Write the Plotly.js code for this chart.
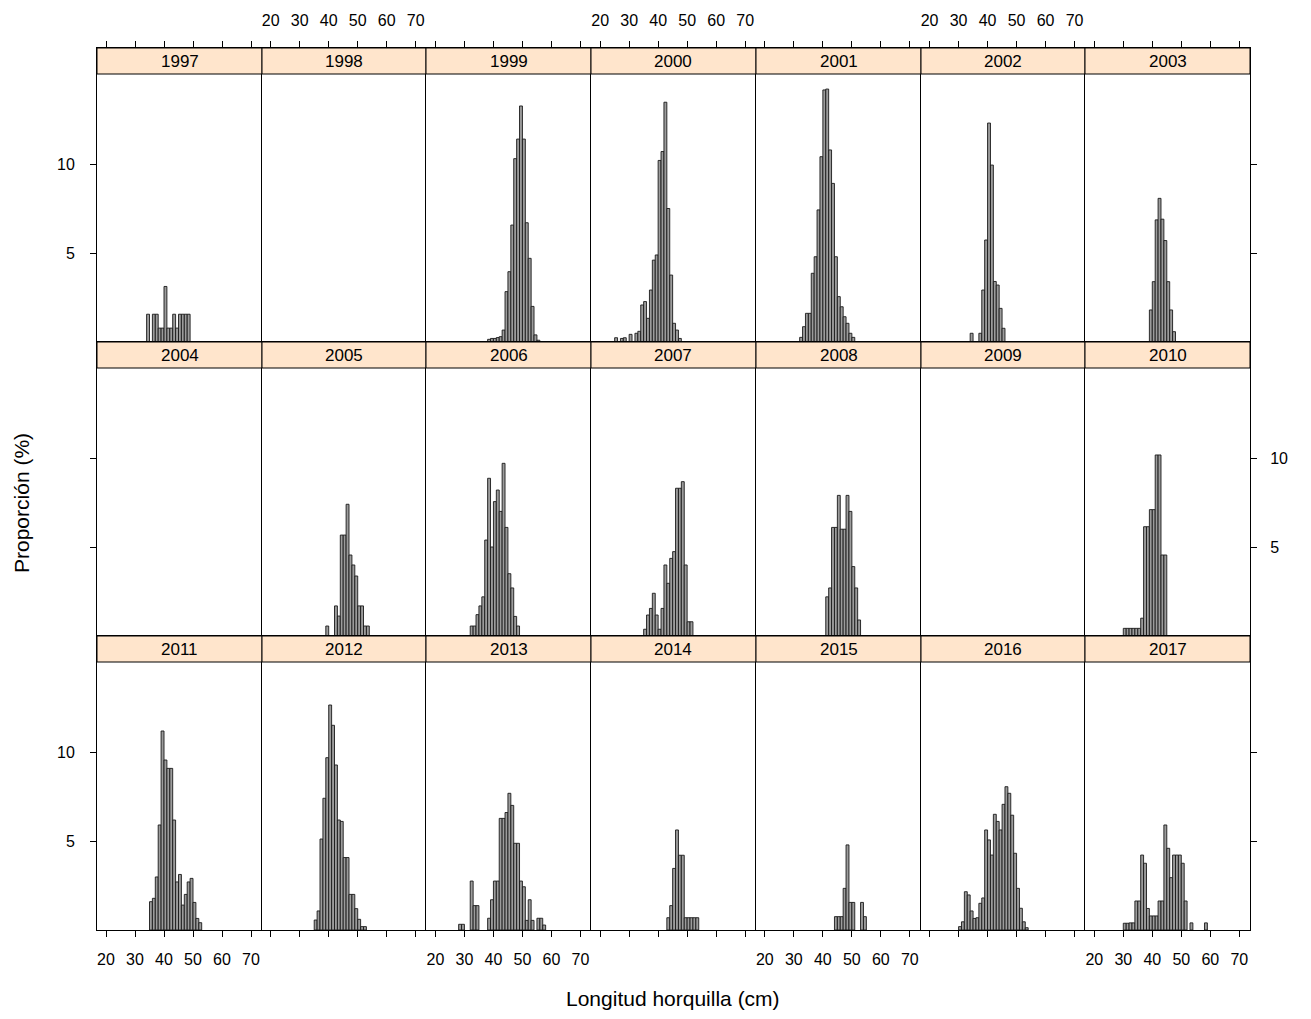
<!DOCTYPE html>
<html><head><meta charset="utf-8">
<script src="https://cdn.plot.ly/plotly-3.0.1.min.js"></script>
<style>html,body{margin:0;padding:0;background:#fff}#chart{width:1311px;height:1019px}</style>
</head><body><div id="chart"></div>
<script>
// ---- data: proportion (%) per 1-cm fork-length bin (bin lower edge, cm) ----
const years = [1997,1998,1999,2000,2001,2002,2003,2004,2005,2006,2007,2008,2009,2010,2011,2012,2013,2014,2015,2016,2017];
const xTicks = [20,30,40,50,60,70];
const yTicks = [5,10];

const len1997 = [34,36,37,38,39,40,41,42,43,44,45,46,47,48];
const pct1997 = [1.56,1.56,1.56,0.78,0.78,3.12,0.78,0.78,1.56,0.78,1.56,1.56,1.56,1.56];
const len1998 = [];
const pct1998 = [];
const len1999 = [38,39,40,41,42,43,44,45,46,47,48,49,50,51,52,53,54,55];
const pct1999 = [0.15,0.2,0.2,0.25,0.3,0.67,2.83,3.95,6.57,10.3,11.4,13.26,11.4,6.7,4.7,2.0,0.4,0.1];
const len2000 = [25,27,28,30,32,33,34,35,36,37,38,39,40,41,42,43,44,45,46,47];
const pct2000 = [0.24,0.2,0.24,0.43,0.49,0.6,2.08,2.27,1.33,2.92,4.6,4.89,10.2,10.7,13.47,7.5,3.76,1.05,0.67,0.2];
const len2001 = [32,33,34,35,36,37,38,39,40,41,42,43,44,45,46,47,48,49,50];
const pct2001 = [0.26,0.86,1.61,1.61,3.86,4.79,7.42,10.41,14.16,14.21,10.79,8.91,4.79,2.55,1.98,1.42,1.05,0.49,0.26];
const len2002 = [34,37,38,39,40,41,42,43,44,45];
const pct2002 = [0.49,0.49,2.92,5.73,12.3,9.94,3.4,3.2,1.89,0.77];
const len2003 = [39,40,41,42,43,44,45,46,47];
const pct2003 = [1.8,3.39,6.86,8.07,6.9,5.7,3.39,1.8,0.58];
const len2004 = [];
const pct2004 = [];
const len2005 = [39,42,43,44,45,46,47,48,49,50,51,52,53];
const pct2005 = [0.56,1.69,1.12,5.67,5.67,7.4,4.55,3.99,3.37,1.69,1.69,0.56,0.56];
const len2006 = [32,33,34,35,36,37,38,39,40,41,42,43,44,45,46,47,48];
const pct2006 = [0.56,0.56,1.2,1.69,2.2,5.39,8.86,5.0,7.55,8.2,7.0,9.7,6.1,3.5,2.7,1.1,0.56];
const len2007 = [35,36,37,38,39,40,41,42,43,44,45,46,47,48,49,50,51];
const pct2007 = [0.38,1.18,1.55,2.4,1.18,0.38,1.55,3.99,2.96,4.36,4.74,8.3,8.3,8.67,3.99,0.8,0.8];
const len2008 = [41,42,43,44,45,46,47,48,49,50,51,52];
const pct2008 = [2.2,2.7,6.1,6.1,7.9,6.0,6.0,7.9,7.0,3.9,2.7,0.9];
const len2009 = [];
const pct2009 = [];
const len2010 = [30,31,32,33,34,35,36,37,38,39,40,41,42,43,44];
const pct2010 = [0.43,0.43,0.43,0.43,0.43,0.43,1.0,6.14,6.14,7.1,7.1,10.17,10.17,4.55,4.55];
const len2011 = [35,36,37,38,39,40,41,42,43,44,45,46,47,48,49,50,51,52];
const pct2011 = [1.59,1.78,2.98,5.9,11.18,9.55,9.08,9.08,6.18,2.7,3.12,1.4,2.0,2.7,2.9,1.55,0.65,0.41];
const len2012 = [35,36,37,38,39,40,41,42,43,44,45,46,47,48,49,50,51,52];
const pct2012 = [0.56,1.07,5.11,7.4,9.68,12.64,11.5,9.27,6.18,6.1,4.07,4.07,2.0,2.0,1.2,0.6,0.19,0.19];
const len2013 = [28,29,32,33,34,38,39,40,41,42,43,44,45,46,47,48,49,50,51,52,53,55,56,57];
const pct2013 = [0.32,0.32,2.75,1.37,1.37,0.66,1.7,2.75,2.75,6.27,6.27,6.6,7.68,7.0,4.87,4.87,2.75,2.43,0.54,1.7,0.54,0.66,0.66,0.28];
const len2014 = [43,44,45,46,47,48,49,50,51,52,53];
const pct2014 = [0.69,1.37,3.46,5.62,4.2,4.2,0.69,0.69,0.69,0.69,0.69];
const len2015 = [44,45,46,47,48,49,50,53,54];
const pct2015 = [0.75,0.75,0.75,2.34,4.78,1.55,1.55,1.55,0.75];
const len2016 = [30,31,32,33,34,35,36,37,38,39,40,41,42,43,44,45,46,47,48,49,50,51,52,53];
const pct2016 = [0.19,0.46,2.15,1.97,1.07,0.65,0.69,1.5,1.8,5.62,5.06,4.21,6.5,6.1,5.62,7.06,8.05,7.68,6.45,4.31,2.34,1.22,0.46,0.13];
const len2017 = [30,31,32,33,34,35,36,37,38,39,40,41,42,43,44,45,46,47,48,49,50,51,53,58];
const pct2017 = [0.38,0.38,0.4,0.4,1.63,1.63,4.21,3.75,1.21,0.79,0.79,0.79,1.63,1.63,5.9,4.59,2.94,4.21,4.21,4.21,3.75,1.63,0.4,0.4];

const lengths = [len1997,len1998,len1999,len2000,len2001,len2002,len2003,len2004,len2005,len2006,len2007,len2008,len2009,len2010,len2011,len2012,len2013,len2014,len2015,len2016,len2017];
const props = [pct1997,pct1998,pct1999,pct2000,pct2001,pct2002,pct2003,pct2004,pct2005,pct2006,pct2007,pct2008,pct2009,pct2010,pct2011,pct2012,pct2013,pct2014,pct2015,pct2016,pct2017];

// ---- layout geometry (pixels) ----
const W = 1311, H = 1019;
const gridL = 97, gridR = 1250, gridT = 48, rowH = 294, stripH = 26;
const nCol = 7, nRow = 3;
const colW = (gridR - gridL) / nCol;
const pxPerCm = 2.9, pxPerPct = 17.8;
const yHi = rowH / pxPerPct;
const colEdge = k => Math.round(gridL + k * colW);

const FONT = 'Liberation Sans, Arial, Helvetica, sans-serif';
const traces = [];
const layout = {
  width: W, height: H,
  margin: {l: 0, r: 0, t: 0, b: 0},
  paper_bgcolor: '#ffffff', plot_bgcolor: 'rgba(0,0,0,0)',
  showlegend: false, hovermode: false,
  font: {family: FONT, size: 16, color: '#000'},
  shapes: [], annotations: []
};

years.forEach((yr, i) => {
  const r = Math.floor(i / nCol), k = i % nCol;
  const n = i + 1;
  const xa = n === 1 ? 'x' : 'x' + n;
  const ya = n === 1 ? 'y' : 'y' + n;
  const lPx = colEdge(k), rPx = colEdge(k + 1);
  const x0 = lPx / W, x1 = rPx / W;
  const topPx = gridT + r * rowH, botPx = topPx + rowH;
  const yd0 = 1 - botPx / H, yd1 = 1 - topPx / H;
  const x20 = gridL + 9 + k * colW;               // pixel of the 20 cm tick
  const lo = 20 - (x20 - lPx) / pxPerCm;
  const hi = lo + (rPx - lPx) / pxPerCm;

  const xax = {
    domain: [x0, x1], range: [lo, hi], anchor: ya,
    showline: true, mirror: true, linecolor: '#000', linewidth: 1,
    showgrid: false, zeroline: false, fixedrange: true,
    tickvals: xTicks, ticktext: xTicks.map(String),
    ticks: '', showticklabels: false, ticklabelstandoff: 9,
    tickfont: {family: FONT, size: 16, color: '#000'}, ticklen: 6, tickcolor: '#000'
  };
  if (r === 0) { xax.side = 'top'; xax.ticks = 'outside'; xax.showticklabels = (k % 2 === 1); }
  if (r === nRow - 1) { xax.side = 'bottom'; xax.ticks = 'outside'; xax.showticklabels = (k % 2 === 0); }

  // one vertical line per column boundary: every panel draws its left edge,
  // the last column also draws its right edge
  const yax = {
    domain: [yd0, yd1], range: [0, yHi], anchor: xa,
    showline: true, mirror: false, side: 'left', linecolor: '#000', linewidth: 1,
    showgrid: false, zeroline: false, fixedrange: true,
    tickvals: yTicks, ticktext: yTicks.map(String),
    ticks: '', showticklabels: false, ticklabelstandoff: 12,
    tickfont: {family: FONT, size: 16, color: '#000'}, ticklen: 6, tickcolor: '#000'
  };
  if (k === 0) { yax.ticks = 'outside'; yax.showticklabels = (r % 2 === 0); }
  if (k === nCol - 1) {
    yax.side = 'right'; yax.mirror = true; yax.ticks = 'outside';
    yax.showticklabels = (r % 2 === 1); yax.ticklabelstandoff = 10;
  }

  layout[n === 1 ? 'xaxis' : 'xaxis' + n] = xax;
  layout[n === 1 ? 'yaxis' : 'yaxis' + n] = yax;

  traces.push({
    type: 'bar', x: lengths[i], y: props[i], xaxis: xa, yaxis: ya,
    width: 1, offset: 0,
    marker: {color: '#9c9c9c', line: {color: '#1a1a1a', width: 0.9}},
    hoverinfo: 'skip'
  });

  // strip
  layout.shapes.push({
    type: 'rect', xref: 'paper', yref: 'paper',
    x0: x0, x1: x1, y0: 1 - (topPx + stripH) / H, y1: 1 - topPx / H,
    fillcolor: '#ffe5cc', line: {color: '#000', width: 1}, layer: 'above'
  });
  layout.annotations.push({
    xref: 'paper', yref: 'paper', x: (x0 + x1) / 2, y: 1 - (topPx + stripH / 2) / H,
    text: String(yr), showarrow: false, xanchor: 'center', yanchor: 'middle',
    font: {family: FONT, size: 17, color: '#000'}
  });
});

layout.annotations.push({
  xref: 'paper', yref: 'paper', x: 673 / W, y: 1 - 998 / H,
  text: 'Longitud horquilla (cm)', showarrow: false, xanchor: 'center', yanchor: 'middle',
  font: {family: FONT, size: 21, color: '#000'}
});
layout.annotations.push({
  xref: 'paper', yref: 'paper', x: 22 / W, y: 1 - 503 / H,
  text: 'Proporción (%)', showarrow: false, textangle: -90, xanchor: 'center', yanchor: 'middle',
  font: {family: FONT, size: 21, color: '#000'}
});

Plotly.newPlot('chart', traces, layout, {displayModeBar: false, staticPlot: true});
</script>
</body></html>
